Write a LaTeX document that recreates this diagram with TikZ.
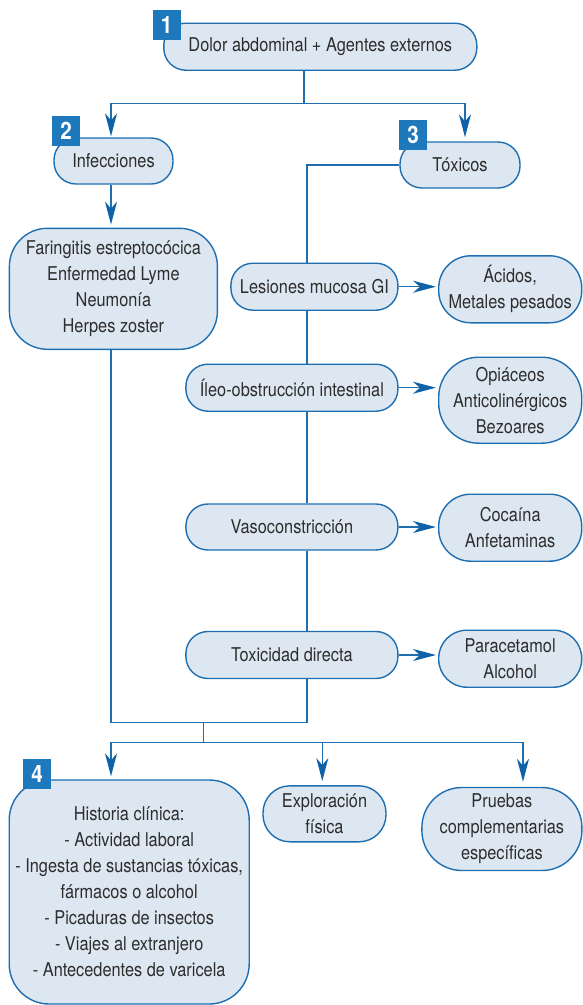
\documentclass[tikz,border=0pt]{standalone}
\usepackage{fontspec}
\setmainfont{TeX Gyre Heros}[FakeStretch=0.86]
\usetikzlibrary{arrows.meta,calc}
\definecolor{bfill}{RGB}{221,231,242}
\definecolor{bline}{RGB}{30,110,176}
\definecolor{arrc}{RGB}{15,98,168}
\definecolor{badgec}{RGB}{30,120,188}
\definecolor{txt}{RGB}{45,45,45}
\begin{document}
\begin{tikzpicture}[x=1pt,y=-1pt,
  bx/.style={rectangle,draw=bline,line width=1.4pt,fill=bfill,align=center,text=txt,
    font=\fontsize{19}{26}\selectfont,inner sep=0pt},
  badgebox/.style={rectangle,fill=badgec,text=white,font=\fontsize{24}{24}\selectfont\bfseries,
    inner sep=0pt,minimum width=28pt,minimum height=30pt},
  ln/.style={draw=bline,line width=1.5pt},
  arr/.style={ln,-{Stealth[length=23pt,width=12pt,inset=7pt,color=arrc]}}]
\useasboundingbox (0,0) rectangle (583,1005);
% boxes
\node[bx,minimum width=313pt,minimum height=47pt,rounded corners=22pt] (b1) at (320.3,46.7) {Dolor abdominal + Agentes externos};
\node[bx,minimum width=119pt,minimum height=46pt,rounded corners=22pt] (inf) at (113.5,161) {Infecciones};
\node[bx,minimum width=120pt,minimum height=46pt,rounded corners=22pt] (tox) at (460,165) {Tóxicos};
\node[bx,minimum width=208pt,minimum height=121pt,rounded corners=38pt] (far) at (113.4,288.8) {Faringitis estreptocócica\\Enfermedad Lyme\\Neumonía\\Herpes zoster};
\node[bx,minimum width=167pt,minimum height=47pt,rounded corners=22pt] (les) at (314.4,286.7) {Lesiones mucosa GI};
\node[bx,minimum width=143pt,minimum height=67pt,rounded corners=32pt] (aci) at (510.2,289.3) {Ácidos,\\Metales pesados};
\node[bx,minimum width=212pt,minimum height=47pt,rounded corners=22pt] (ile) at (291.9,387.7) {Íleo-obstrucción intestinal};
\node[bx,minimum width=143pt,minimum height=86pt,rounded corners=40pt] (opi) at (510.2,400.2) {Opiáceos\\Anticolinérgicos\\Bezoares};
\node[bx,minimum width=212pt,minimum height=46pt,rounded corners=22pt] (vas) at (291.9,527) {Vasoconstricción};
\node[bx,minimum width=143pt,minimum height=67pt,rounded corners=32pt] (coc) at (510.2,527.7) {Cocaína\\Anfetaminas};
\node[bx,minimum width=212pt,minimum height=47pt,rounded corners=22pt] (toxd) at (291.9,655) {Toxicidad directa};
\node[bx,minimum width=143pt,minimum height=57pt,rounded corners=28pt] (par) at (510.2,658.7) {Paracetamol\\Alcohol};
\node[bx,minimum width=240pt,minimum height=224pt,rounded corners=40pt] (his) at (129.2,892) {Historia clínica:\\- Actividad laboral\\- Ingesta de sustancias tóxicas,\\fármacos o alcohol\\- Picaduras de insectos\\- Viajes al extranjero\\- Antecedentes de varicela};
\node[bx,minimum width=123pt,minimum height=56pt,rounded corners=27pt] (exp) at (324.5,813.8) {Exploración\\física};
\node[bx,minimum width=160pt,minimum height=83pt,rounded corners=40pt] (pru) at (501.9,829) {Pruebas\\complementarias\\específicas};
% badges
\node[badgebox] (n1) at (166.7,25) {1};
\node[badgebox] (n2) at (66,131) {2};
\node[badgebox] (n3) at (413,134.5) {3};
\node[badgebox] (n4) at (37,774) {4};
% coordinates
\coordinate (cL) at (111,0);
\coordinate (cR) at (465,0);
\coordinate (cM) at (307,0);
\coordinate (j1) at (304,103.7);
\coordinate (jb) at (307,722.7);
\coordinate (jc) at (203.7,722.7);
\coordinate (jd) at (203.7,742.7);
\coordinate (cE) at (322.3,0);
\coordinate (cP) at (523,0);
% connectors
\draw[ln] (b1.south -| j1) -- (j1);
\draw[arr,shorten >=1pt] (j1) -| (inf.north -| cL);
\draw[arr,shorten >=4pt] (j1) -| (tox.north -| cR);
\draw[arr,shorten >=3pt] (inf.south -| cL) -- (far.north -| cL);
\draw[ln] (tox.west) -| (les.north -| cM);
\draw[ln] (les.south -| cM) -- (ile.north -| cM);
\draw[ln] (ile.south -| cM) -- (vas.north -| cM);
\draw[ln] (vas.south -| cM) -- (toxd.north -| cM);
\draw[ln] (toxd.south -| cM) -- (jb) -| (far.south -| cL);
\draw[ln] (jc) -- (jd);
\draw[arr,shorten >=3pt] (jd) -| (his.north -| cL);
\draw[arr,shorten >=4pt] (jd) -| (exp.north -| cE);
\draw[arr,shorten >=5pt] (jd) -| (pru.north -| cP);
\draw[arr,shorten >=2pt] (les.east) -- (les.east -| aci.west);
\draw[arr,shorten >=2pt] (ile.east) -- (ile.east -| opi.west);
\draw[arr,shorten >=2pt] (vas.east) -- (vas.east -| coc.west);
\draw[arr,shorten >=2pt] (toxd.east) -- (toxd.east -| par.west);
\end{tikzpicture}
\end{document}
